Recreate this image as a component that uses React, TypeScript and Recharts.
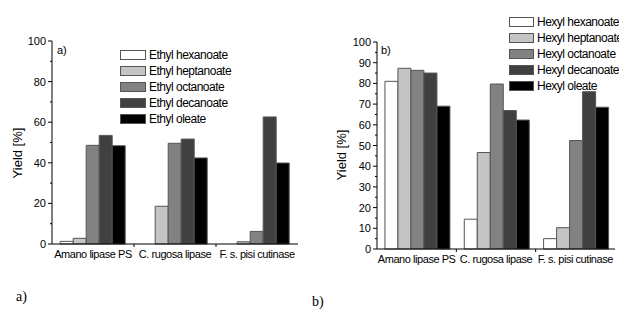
import { BarChart, Bar, XAxis, YAxis, Legend } from 'recharts';

const enzymes = ['Amano lipase PS', 'C. rugosa lipase', 'F. s. pisi cutinase'];

const ethylNames = ['Ethyl hexanoate', 'Ethyl heptanoate', 'Ethyl octanoate', 'Ethyl decanoate', 'Ethyl oleate'];
const ethylHexanoate = [1.3, 0, 0];
const ethylHeptanoate = [2.8, 18.6, 1.1];
const ethylOctanoate = [48.6, 49.6, 6.2];
const ethylDecanoate = [53.5, 51.7, 62.6];
const ethylOleate = [48.4, 42.4, 39.9];

const hexylNames = ['Hexyl hexanoate', 'Hexyl heptanoate', 'Hexyl octanoate', 'Hexyl decanoate', 'Hexyl oleate'];
const hexylHexanoate = [81.0, 14.4, 5.0];
const hexylHeptanoate = [87.3, 46.6, 10.3];
const hexylOctanoate = [86.3, 79.7, 52.4];
const hexylDecanoate = [85.0, 66.9, 76.0];
const hexylOleate = [69.0, 62.3, 68.5];

const ticksA = [0, 10, 20, 30, 40, 50, 60, 70, 80, 90, 100];
const ticksB = [0, 5, 10, 15, 20, 25, 30, 35, 40, 45, 50, 55, 60, 65, 70, 75, 80, 85, 90, 95, 100];

const fills = ['#ffffff', '#c4c4c4', '#828282', '#404040', '#000000'];
const FONT = "'Liberation Sans', Arial, sans-serif";
const TICK_SIZE = 3;
const TICK_MARGIN = 3;

function buildRows(series: number[][]) {
  return enzymes.map((name, i) => {
    const row: Record<string, string | number> = { name };
    series.forEach((s, k) => {
      row['s' + k] = s[i];
    });
    return row;
  });
}

const ethylRows = buildRows([ethylHexanoate, ethylHeptanoate, ethylOctanoate, ethylDecanoate, ethylOleate]);
const hexylRows = buildRows([hexylHexanoate, hexylHeptanoate, hexylOctanoate, hexylDecanoate, hexylOleate]);

function YTick(props: any) {
  const { x, y, payload, major } = props;
  const axisX = x + TICK_SIZE + TICK_MARGIN;
  const isMajor = payload.value % major === 0;
  return (
    <g>
      <line x1={axisX - (isMajor ? 4 : 2)} x2={axisX} y1={y} y2={y} stroke="#000" />
      {isMajor && (
        <text x={x} y={y} dy={4} textAnchor="end" fontSize={11} fontFamily={FONT} fill="#000">
          {payload.value}
        </text>
      )}
    </g>
  );
}

function XTick(props: any) {
  const { x, y, payload, band } = props;
  const axisY = y - TICK_SIZE - TICK_MARGIN;
  const last = payload.index === enzymes.length - 1;
  return (
    <g>
      {!last && <line x1={x + band / 2} x2={x + band / 2} y1={axisY} y2={axisY + 3} stroke="#000" />}
      <text
        x={x}
        y={axisY + 14}
        textAnchor="middle"
        fontSize={11}
        letterSpacing={-0.45}
        fontFamily={FONT}
        fill="#000"
      >
        {payload.value}
      </text>
    </g>
  );
}

function LegendBox({ names, boxW }: { names: string[]; boxW: number }) {
  return (
    <div style={{ fontFamily: FONT, fontSize: 12, letterSpacing: -0.5, color: '#000' }}>
      {names.map((n, i) => (
        <div key={n} style={{ display: 'flex', alignItems: 'center', height: 16, whiteSpace: 'nowrap' }}>
          <span
            style={{
              display: 'inline-block',
              width: boxW,
              height: 8,
              background: fills[i],
              border: '1px solid #555',
              marginRight: 3,
            }}
          />
          <span>{n}</span>
        </div>
      ))}
    </div>
  );
}

interface PanelProps {
  rows: Record<string, string | number>[];
  names: string[];
  ticks: number[];
  major: number;
  width: number;
  height: number;
  margin: { top: number; right: number; left: number; bottom: number };
  yAxisWidth: number;
  legendPos: { left: number; top: number };
  boxW: number;
}

function Panel({ rows, names, ticks, major, width, height, margin, yAxisWidth, legendPos, boxW }: PanelProps) {
  const band = (width - margin.left - margin.right - yAxisWidth) / enzymes.length;
  return (
    <BarChart
      width={width}
      height={height}
      data={rows}
      margin={margin}
      barCategoryGap="10%"
      barGap={0}
    >
      <XAxis
        dataKey="name"
        height={30}
        axisLine={{ stroke: '#000' }}
        tickLine={false}
        tickSize={TICK_SIZE}
        tickMargin={TICK_MARGIN}
        interval={0}
        tick={(p: any) => <XTick {...p} band={band} />}
      />
      <YAxis
        width={yAxisWidth}
        domain={[0, 100]}
        ticks={ticks}
        interval={0}
        axisLine={{ stroke: '#000' }}
        tickLine={false}
        tickSize={TICK_SIZE}
        tickMargin={TICK_MARGIN}
        tick={(p: any) => <YTick {...p} major={major} />}
      />
      <Legend
        layout="vertical"
        align="center"
        verticalAlign="middle"
        wrapperStyle={{ position: 'absolute', left: legendPos.left, top: legendPos.top, width: 'auto' }}
        content={() => <LegendBox names={names} boxW={boxW} />}
      />
      {names.map((n, k) => (
        <Bar
          key={n}
          dataKey={'s' + k}
          name={n}
          fill={fills[k]}
          stroke="#555"
          strokeWidth={1}
          isAnimationActive={false}
        />
      ))}
    </BarChart>
  );
}

const abs = (left: number, top: number): React.CSSProperties => ({ position: 'absolute', left, top });

export default function App() {
  return (
    <div
      style={{
        position: 'absolute',
        left: 0,
        top: 0,
        width: 619,
        height: 320,
        background: '#fff',
        overflow: 'hidden',
      }}
    >
      <div style={abs(0, 0)}>
        <Panel
          rows={ethylRows}
          names={ethylNames}
          ticks={ticksA}
          major={20}
          width={310}
          height={280}
          margin={{ top: 41, right: 12, left: 0, bottom: 6 }}
          yAxisWidth={52}
          legendPos={{ left: 120, top: 47 }}
          boxW={24}
        />
      </div>
      <div style={abs(310, 0)}>
        <Panel
          rows={hexylRows}
          names={hexylNames}
          ticks={ticksB}
          major={10}
          width={309}
          height={280}
          margin={{ top: 42, right: 4, left: 0, bottom: 1 }}
          yAxisWidth={67}
          legendPos={{ left: 199, top: 14 }}
          boxW={23}
        />
      </div>

      {/* axis titles and panel tags */}
      <div
        style={{
          ...abs(17, 153),
          transform: 'translate(-50%, -50%) rotate(-90deg)',
          fontFamily: FONT,
          fontSize: 13,
          whiteSpace: 'nowrap',
        }}
      >
        Yield [%]
      </div>
      <div
        style={{
          ...abs(341, 155),
          transform: 'translate(-50%, -50%) rotate(-90deg)',
          fontFamily: FONT,
          fontSize: 13,
          whiteSpace: 'nowrap',
        }}
      >
        Yield [%]
      </div>
      <div style={{ ...abs(57, 44), fontFamily: FONT, fontSize: 11 }}>a)</div>
      <div style={{ ...abs(381, 44), fontFamily: FONT, fontSize: 11 }}>b)</div>
      <div style={{ ...abs(16, 289), fontFamily: "'Liberation Serif', 'Times New Roman', serif", fontSize: 14 }}>a)</div>
      <div style={{ ...abs(312, 294), fontFamily: "'Liberation Serif', 'Times New Roman', serif", fontSize: 14 }}>b)</div>
    </div>
  );
}
